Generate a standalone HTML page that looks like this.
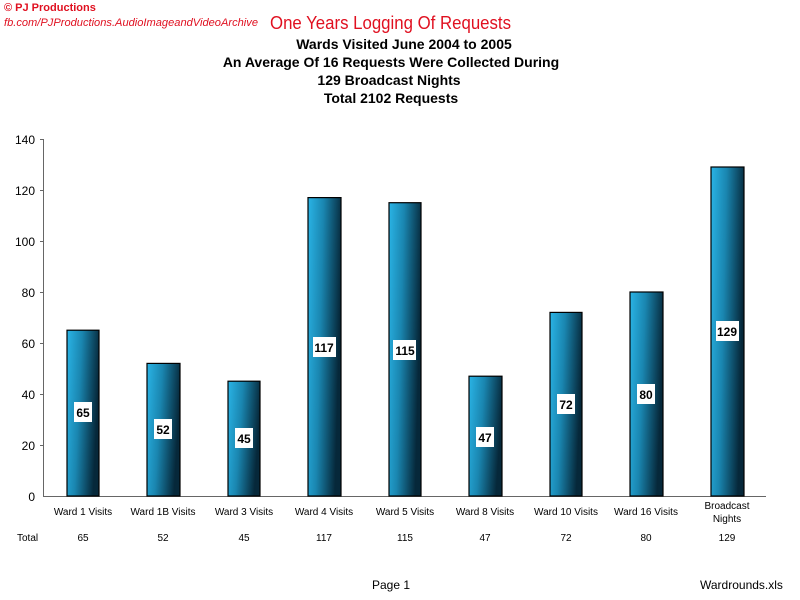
<!DOCTYPE html>
<html><head><meta charset="utf-8"><style>
html,body{margin:0;padding:0;background:#fff;width:800px;height:600px;overflow:hidden}
svg{display:block;font-family:"Liberation Sans",Arial,sans-serif}
</style></head><body>
<svg width="800" height="600" viewBox="0 0 800 600" xmlns="http://www.w3.org/2000/svg">
<defs>
<linearGradient id="g" x1="0" y1="0" x2="1" y2="0.25">
<stop offset="0" stop-color="#2ab4e6"/>
<stop offset="0.45" stop-color="#1a86b0"/>
<stop offset="1" stop-color="#06283a"/>
</linearGradient>
</defs>
<text x="4" y="11" font-size="11" font-weight="bold" fill="#e01020">© PJ Productions</text>
<text x="4" y="26" font-size="11" font-style="italic" fill="#e01020" textLength="254" lengthAdjust="spacingAndGlyphs">fb.com/PJProductions.AudioImageandVideoArchive</text>
<text x="270" y="29" font-size="18" fill="#e01020" textLength="241" lengthAdjust="spacingAndGlyphs">One Years Logging Of Requests</text>
<g font-size="14" font-weight="bold" text-anchor="middle" fill="#000">
<text x="404" y="49">Wards Visited June 2004 to 2005</text>
<text x="391" y="67">An Average Of 16 Requests Were Collected During</text>
<text x="389" y="85">129 Broadcast Nights</text>
<text x="391" y="103">Total 2102 Requests</text>
</g>
<g stroke="#666" stroke-width="1">
<line x1="43.5" y1="139" x2="43.5" y2="496"/>
<line x1="43" y1="496.5" x2="766" y2="496.5"/>
<line x1="40" y1="139.5" x2="43" y2="139.5"/>
<line x1="40" y1="190.5" x2="43" y2="190.5"/>
<line x1="40" y1="241.5" x2="43" y2="241.5"/>
<line x1="40" y1="292.5" x2="43" y2="292.5"/>
<line x1="40" y1="343.5" x2="43" y2="343.5"/>
<line x1="40" y1="394.5" x2="43" y2="394.5"/>
<line x1="40" y1="445.5" x2="43" y2="445.5"/>
</g>
<g font-size="12" text-anchor="end" fill="#000">
<text x="35" y="144">140</text><text x="35" y="195">120</text><text x="35" y="246">100</text>
<text x="35" y="297">80</text><text x="35" y="348">60</text><text x="35" y="399">40</text>
<text x="35" y="450">20</text><text x="35" y="501">0</text>
</g>
<g stroke="#000" stroke-width="1.2" fill="url(#g)">
<rect x="67" y="330.2" width="32" height="165.8"/>
<rect x="147" y="363.4" width="33" height="132.6"/>
<rect x="228" y="381.2" width="32" height="114.8"/>
<rect x="308" y="197.6" width="33" height="298.4"/>
<rect x="389" y="202.7" width="32" height="293.3"/>
<rect x="469" y="376.2" width="33" height="119.8"/>
<rect x="550" y="312.4" width="32" height="183.6"/>
<rect x="630" y="292" width="33" height="204"/>
<rect x="711" y="167" width="33" height="329"/>
</g>
<g fill="#fff">
<rect x="74" y="402" width="18" height="20"/>
<rect x="154" y="419" width="18" height="20"/>
<rect x="235" y="428" width="18" height="20"/>
<rect x="313" y="337" width="23" height="20"/>
<rect x="393" y="340" width="23" height="20"/>
<rect x="476" y="427" width="18" height="20"/>
<rect x="557" y="394" width="18" height="20"/>
<rect x="637" y="384" width="18" height="20"/>
<rect x="716" y="321" width="23" height="20"/>
</g>
<g font-size="12" font-weight="bold" text-anchor="middle" fill="#000">
<text x="83" y="417">65</text><text x="163" y="434">52</text><text x="244" y="443">45</text>
<text x="324" y="352">117</text><text x="405" y="355">115</text><text x="485" y="442">47</text>
<text x="566" y="409">72</text><text x="646" y="399">80</text><text x="727" y="336">129</text>
</g>
<g font-size="10" text-anchor="middle" fill="#000">
<text x="83" y="515">Ward 1 Visits</text><text x="163" y="515">Ward 1B Visits</text>
<text x="244" y="515">Ward 3 Visits</text><text x="324" y="515">Ward 4 Visits</text>
<text x="405" y="515">Ward 5 Visits</text><text x="485" y="515">Ward 8 Visits</text>
<text x="566" y="515">Ward 10 Visits</text><text x="646" y="515">Ward 16 Visits</text>
<text x="727" y="509">Broadcast</text><text x="727" y="522">Nights</text>
<text x="83" y="541">65</text><text x="163" y="541">52</text><text x="244" y="541">45</text>
<text x="324" y="541">117</text><text x="405" y="541">115</text><text x="485" y="541">47</text>
<text x="566" y="541">72</text><text x="646" y="541">80</text><text x="727" y="541">129</text>
</g>
<text x="17" y="541" font-size="10" fill="#000">Total</text>
<text x="372" y="589" font-size="12" fill="#000">Page 1</text>
<text x="700" y="589" font-size="12" fill="#000">Wardrounds.xls</text>
</svg>
</body></html>
